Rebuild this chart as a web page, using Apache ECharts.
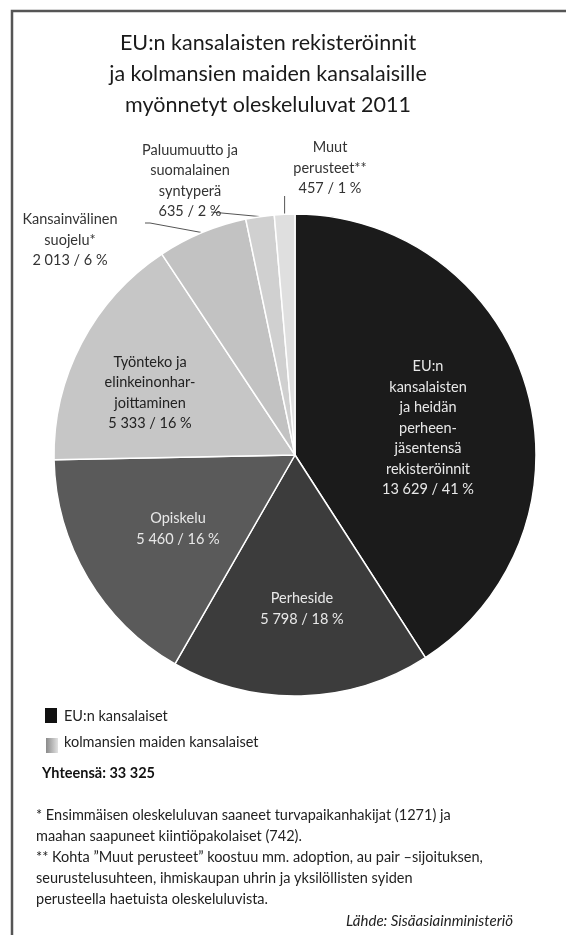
<!DOCTYPE html>
<html>
<head>
<meta charset="utf-8">
<script src="https://cdn.jsdelivr.net/npm/echarts@6/dist/echarts.min.js"></script>
<style>
  html, body { margin: 0; padding: 0; background: #fff; }
  #chart { width: 566px; height: 935px; }
</style>
</head>
<body>
<div id="chart"></div>
<script>
// kategoriat (myötäpäivään klo 12:sta alkaen)
var categories = [
  'EU:n kansalaisten ja heidän perheenjäsentensä rekisteröinnit',
  'Perheside',
  'Opiskelu',
  'Työnteko ja elinkeinonharjoittaminen',
  'Kansainvälinen suojelu*',
  'Paluumuutto ja suomalainen syntyperä',
  'Muut perusteet**'
]
// nimet kuvan riveille jaettuina
var labelTexts = [
  'EU:n\nkansalaisten\nja heidän\nperheen-\njäsentensä\nrekisteröinnit',
  'Perheside',
  'Opiskelu',
  'Työnteko ja\nelinkeinonhar-\njoittaminen',
  'Kansainvälinen\nsuojelu*',
  'Paluumuutto ja\nsuomalainen\nsyntyperä',
  'Muut\nperusteet**'
]
var values = [13629, 5798, 5460, 5333, 2013, 635, 457]

var legendNames = ['EU:n kansalaiset', 'kolmansien maiden kansalaiset']
var totalText = 'Yhteensä: 33 325'
var notes = [
  '* Ensimmäisen oleskeluluvan saaneet turvapaikanhakijat (1271) ja',
  'maahan saapuneet kiintiöpakolaiset (742).',
  '** Kohta \u201dMuut perusteet\u201d koostuu mm. adoption, au pair \u2013sijoituksen,',
  'seurustelusuhteen, ihmiskaupan uhrin ja yksilöllisten syiden',
  'perusteella haetuista oleskeluluvista.'
]
var sourceText = 'Lähde: Sisäasiainministeriö'

// ulkoasu
var FONT = 'Lato, "Open Sans", sans-serif'
var cx = 295, cy = 455, R = 241
var colors = ['#1b1b1b', '#3c3c3c', '#5a5a5a', '#c6c6c6', '#c2c2c2', '#d0d0d0', '#dfdfdf']
var textColors = ['#e8e8e8', '#e8e8e8', '#e8e8e8', '#222', '#333', '#333', '#333']
// tekstien paikat suhteessa ympyrän keskipisteeseen
var labelPos = [[133, -27], [7, 154], [-117, 74], [-145, -62], [-225, -215], [-105, -274], [35, -287]]
// ulkopuolisten tekstien viivojen päät
var lineEnds = { 4: [[-145, -232], [-150, -232]], 5: [[-84, -243], [-84, -243]], 6: [[null, -259], [null, -259]] }

function fmt (n) {
  return String(n).replace(/\B(?=(\d{3})+(?!\d))/g, ' ')
}

var pieData = categories.map(function (name, i) {
  var outside = i >= 4
  return {
    name: name,
    value: values[i],
    itemStyle: { color: colors[i] },
    label: { position: outside ? 'outside' : 'inside', color: textColors[i] },
    labelLine: { show: outside }
  }
})

var chart = echarts.init(document.getElementById('chart'))
var option = {
  animation: false,
  title: {
    text: 'EU:n kansalaisten rekisteröinnit\nja kolmansien maiden kansalaisille\nmyönnetyt oleskeluluvat 2011',
    left: 263,
    top: 23,
    textAlign: 'center',
    textStyle: { fontFamily: FONT, fontSize: 21.5, fontWeight: 'normal', color: '#1a1a1a', lineHeight: 31 }
  },
  series: [{
    type: 'pie',
    center: [cx, cy],
    radius: R,
    startAngle: 90,
    clockwise: true,
    percentPrecision: 0,
    avoidLabelOverlap: false,
    itemStyle: { borderColor: '#fff', borderWidth: 1.5 },
    label: {
      fontFamily: FONT,
      fontSize: 14.5,
      lineHeight: 20.5,
      align: 'center',
      formatter: function (p) {
        return labelTexts[p.dataIndex] + '\n' + fmt(p.value) + ' / ' + p.percent + ' %'
      }
    },
    labelLine: { lineStyle: { color: '#555', width: 1 }, length: 10, length2: 10 },
    labelLayout: function (p) {
      var i = p.dataIndex
      var res = { x: cx + labelPos[i][0], y: cy + labelPos[i][1], align: 'center', verticalAlign: 'middle' }
      if (lineEnds[i] && p.labelLinePoints) {
        var p0 = p.labelLinePoints[0]
        var pts = [p0.slice()]
        lineEnds[i].forEach(function (e) {
          pts.push([e[0] === null ? p0[0] : cx + e[0], cy + e[1]])
        })
        res.labelLinePoints = pts
      }
      return res
    },
    data: pieData
  }],
  graphic: [
    // kehys (vasen ja ylä)
    { type: 'polyline', shape: { points: [[12, 935], [12, 11], [566, 11]] }, style: { fill: null, stroke: '#555', lineWidth: 2.5 }, silent: true },
    // selite
    { type: 'rect', shape: { x: 45, y: 708, width: 12, height: 15 }, style: { fill: '#111' } },
    { type: 'text', style: { text: legendNames[0], x: 64, y: 716, verticalAlign: 'middle', font: '14.5px ' + FONT, fill: '#222' } },
    {
      type: 'rect', shape: { x: 46, y: 738, width: 12, height: 15 },
      style: { fill: new echarts.graphic.LinearGradient(0, 0, 1, 0, [{ offset: 0, color: '#8a8a8a' }, { offset: 1, color: '#e2e2e2' }]) }
    },
    { type: 'text', style: { text: legendNames[1], x: 64, y: 742, verticalAlign: 'middle', font: '14.5px ' + FONT, fill: '#222' } },
    { type: 'text', style: { text: totalText, x: 42, y: 773, verticalAlign: 'middle', font: 'bold 14.5px ' + FONT, fill: '#111' } },
    // alaviitteet
    {
      type: 'text',
      style: { text: notes.join('\n'), x: 36, y: 805, lineHeight: 21, font: '14.5px ' + FONT, fill: '#222' }
    },
    { type: 'text', style: { text: sourceText, x: 513, y: 921, align: 'right', verticalAlign: 'middle', font: 'italic 15px ' + FONT, fill: '#222' } }
  ]
}
chart.setOption(option)
</script>
</body>
</html>
